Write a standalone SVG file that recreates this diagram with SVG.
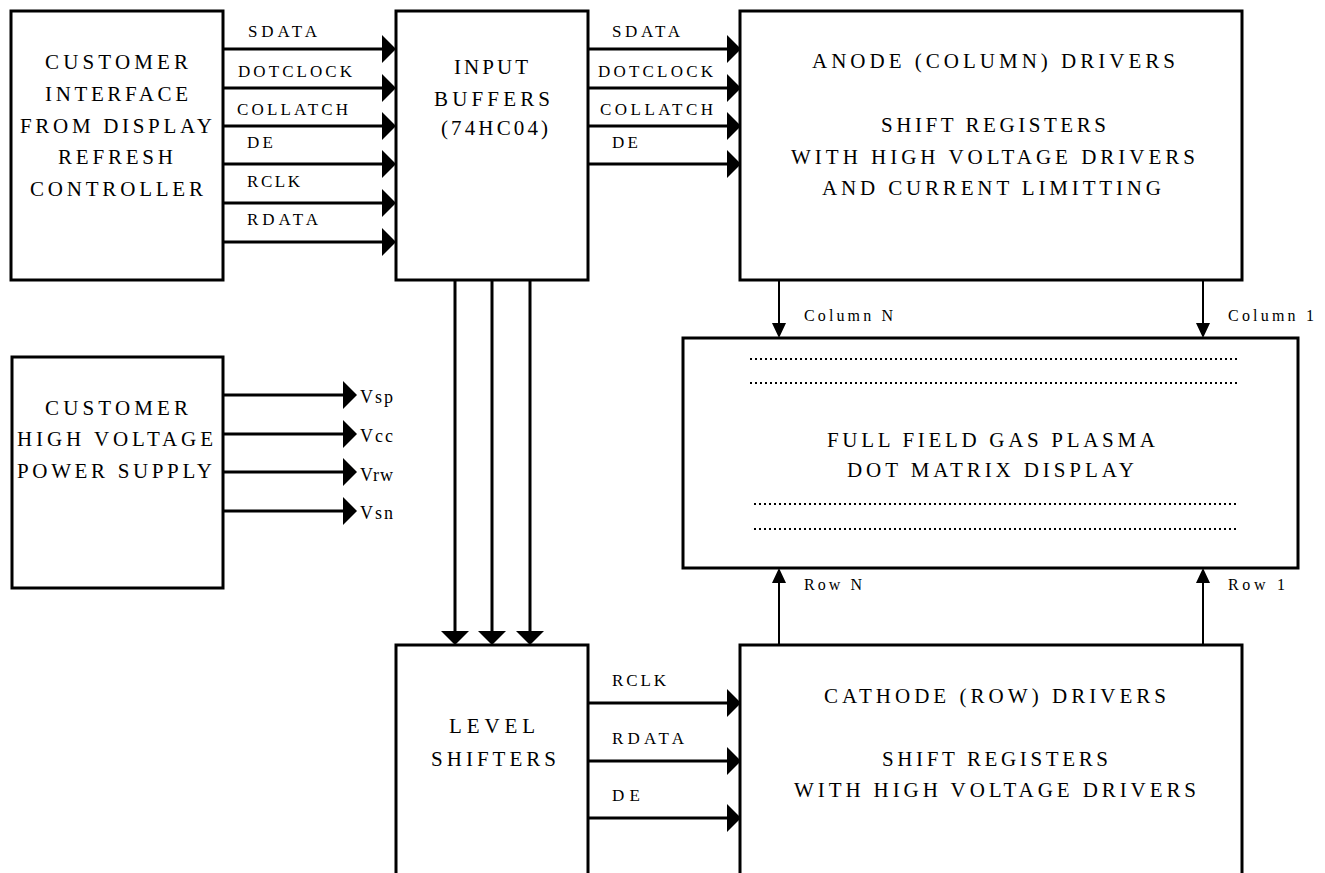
<svg xmlns="http://www.w3.org/2000/svg" width="1325" height="873" viewBox="0 0 1325 873">
<style>
.box{fill:#fff;stroke:#000;stroke-width:3}
.w{stroke:#000;stroke-width:3;fill:none}
.t{stroke:#000;stroke-width:2;fill:none}
.dot{stroke:#000;stroke-width:2;stroke-dasharray:2 3;fill:none}
.bt{font-family:"Liberation Serif","Times New Roman",serif;font-size:21px;fill:#000}
.vt{font-family:"Liberation Serif","Times New Roman",serif;font-size:18px;fill:#000}
.lb{font-family:"Liberation Serif","Times New Roman",serif;font-size:17px;fill:#000}
.sm{font-family:"Liberation Serif","Times New Roman",serif;font-size:16px;fill:#000}
</style>
<defs>
<marker id="big" markerUnits="userSpaceOnUse" markerWidth="14" markerHeight="28" refX="0" refY="14" orient="auto" viewBox="0 0 14 28"><path d="M0,0 L14,14 L0,28 z" fill="#000"/></marker>
<marker id="small" markerUnits="userSpaceOnUse" markerWidth="15" markerHeight="14" refX="0" refY="7" orient="auto" viewBox="0 0 15 14"><path d="M0,0 L15,7 L0,14 z" fill="#000"/></marker>
</defs>

<g id="customer-interface">
<rect class="box" x="11" y="11" width="212" height="269"/>
<text class="bt" x="45" y="69" textLength="143" lengthAdjust="spacing">CUSTOMER</text>
<text class="bt" x="45" y="101" textLength="143" lengthAdjust="spacing">INTERFACE</text>
<text class="bt" x="20" y="133" textLength="192" lengthAdjust="spacing">FROM DISPLAY</text>
<text class="bt" x="58" y="164" textLength="115" lengthAdjust="spacing">REFRESH</text>
<text class="bt" x="30" y="196" textLength="173" lengthAdjust="spacing">CONTROLLER</text>
</g>

<g id="input-buffers">
<rect class="box" x="396" y="11" width="192" height="269"/>
<text class="bt" x="454" y="74" textLength="74" lengthAdjust="spacing">INPUT</text>
<text class="bt" x="434" y="106" textLength="116" lengthAdjust="spacing">BUFFERS</text>
<text class="bt" x="441" y="135" textLength="107" lengthAdjust="spacing">(74HC04)</text>
</g>

<g id="anode-drivers">
<rect class="box" x="740" y="11" width="502" height="269"/>
<text class="bt" x="812" y="68" textLength="363" lengthAdjust="spacing">ANODE (COLUMN) DRIVERS</text>
<text class="bt" x="881" y="132" textLength="225" lengthAdjust="spacing">SHIFT REGISTERS</text>
<text class="bt" x="791" y="164" textLength="404" lengthAdjust="spacing">WITH HIGH VOLTAGE DRIVERS</text>
<text class="bt" x="822" y="195" textLength="339" lengthAdjust="spacing">AND CURRENT LIMITTING</text>
</g>

<g id="power-supply">
<rect class="box" x="12" y="357" width="211" height="231"/>
<text class="bt" x="45" y="415" textLength="143" lengthAdjust="spacing">CUSTOMER</text>
<text class="bt" x="17" y="446" textLength="196" lengthAdjust="spacing">HIGH VOLTAGE</text>
<text class="bt" x="17" y="478" textLength="195" lengthAdjust="spacing">POWER SUPPLY</text>
</g>

<g id="display">
<rect class="box" x="683" y="338" width="615" height="230"/>
<line class="dot" x1="750" y1="359" x2="1240" y2="359"/>
<line class="dot" x1="750" y1="383" x2="1240" y2="383"/>
<line class="dot" x1="754" y1="504" x2="1238" y2="504"/>
<line class="dot" x1="754" y1="529" x2="1238" y2="529"/>
<text class="bt" x="827" y="447" textLength="328" lengthAdjust="spacing">FULL FIELD GAS PLASMA</text>
<text class="bt" x="847" y="477" textLength="287" lengthAdjust="spacing">DOT MATRIX DISPLAY</text>
</g>

<g id="level-shifters">
<rect class="box" x="396" y="645" width="192" height="240"/>
<text class="bt" x="449" y="733" textLength="86" lengthAdjust="spacing">LEVEL</text>
<text class="bt" x="431" y="766" textLength="125" lengthAdjust="spacing">SHIFTERS</text>
</g>

<g id="cathode-drivers">
<rect class="box" x="740" y="645" width="502" height="240"/>
<text class="bt" x="824" y="703" textLength="342" lengthAdjust="spacing">CATHODE (ROW) DRIVERS</text>
<text class="bt" x="882" y="766" textLength="226" lengthAdjust="spacing">SHIFT REGISTERS</text>
<text class="bt" x="794" y="797" textLength="402" lengthAdjust="spacing">WITH HIGH VOLTAGE DRIVERS</text>
</g>

<g id="connectors">
<line class="w" x1="223" y1="49" x2="382" y2="49" marker-end="url(#big)"/>
<line class="w" x1="223" y1="88" x2="382" y2="88" marker-end="url(#big)"/>
<line class="w" x1="223" y1="126" x2="382" y2="126" marker-end="url(#big)"/>
<line class="w" x1="223" y1="164" x2="382" y2="164" marker-end="url(#big)"/>
<line class="w" x1="223" y1="203" x2="382" y2="203" marker-end="url(#big)"/>
<line class="w" x1="223" y1="242" x2="382" y2="242" marker-end="url(#big)"/>
<line class="w" x1="588" y1="49" x2="727" y2="49" marker-end="url(#big)"/>
<line class="w" x1="588" y1="88" x2="727" y2="88" marker-end="url(#big)"/>
<line class="w" x1="588" y1="126" x2="727" y2="126" marker-end="url(#big)"/>
<line class="w" x1="588" y1="164" x2="727" y2="164" marker-end="url(#big)"/>
<line class="w" x1="223" y1="395" x2="343" y2="395" marker-end="url(#big)"/>
<line class="w" x1="223" y1="434" x2="343" y2="434" marker-end="url(#big)"/>
<line class="w" x1="223" y1="472" x2="343" y2="472" marker-end="url(#big)"/>
<line class="w" x1="223" y1="511" x2="343" y2="511" marker-end="url(#big)"/>
<line class="w" x1="455" y1="280" x2="455" y2="631" marker-end="url(#big)"/>
<line class="w" x1="492" y1="280" x2="492" y2="631" marker-end="url(#big)"/>
<line class="w" x1="530" y1="280" x2="530" y2="631" marker-end="url(#big)"/>
<line class="w" x1="588" y1="703" x2="727" y2="703" marker-end="url(#big)"/>
<line class="w" x1="588" y1="761" x2="727" y2="761" marker-end="url(#big)"/>
<line class="w" x1="588" y1="818" x2="727" y2="818" marker-end="url(#big)"/>
<line class="t" x1="779" y1="280" x2="779" y2="323" marker-end="url(#small)"/>
<line class="t" x1="1203" y1="280" x2="1203" y2="323" marker-end="url(#small)"/>
<line class="t" x1="779" y1="645" x2="779" y2="583" marker-end="url(#small)"/>
<line class="t" x1="1203" y1="645" x2="1203" y2="583" marker-end="url(#small)"/>
</g>

<g id="labels">
<text class="lb" x="248" y="37" textLength="69" lengthAdjust="spacing">SDATA</text>
<text class="lb" x="238" y="77" textLength="114" lengthAdjust="spacing">DOTCLOCK</text>
<text class="lb" x="237" y="115" textLength="111" lengthAdjust="spacing">COLLATCH</text>
<text class="lb" x="247" y="148" textLength="26" lengthAdjust="spacing">DE</text>
<text class="lb" x="247" y="187" textLength="53" lengthAdjust="spacing">RCLK</text>
<text class="lb" x="247" y="225" textLength="71" lengthAdjust="spacing">RDATA</text>
<text class="lb" x="612" y="37" textLength="68" lengthAdjust="spacing">SDATA</text>
<text class="lb" x="598" y="77" textLength="115" lengthAdjust="spacing">DOTCLOCK</text>
<text class="lb" x="600" y="115" textLength="113" lengthAdjust="spacing">COLLATCH</text>
<text class="lb" x="612" y="148" textLength="26" lengthAdjust="spacing">DE</text>
<text class="lb" x="612" y="686" textLength="54" lengthAdjust="spacing">RCLK</text>
<text class="lb" x="612" y="744" textLength="72" lengthAdjust="spacing">RDATA</text>
<text class="lb" x="612" y="801" textLength="28" lengthAdjust="spacing">DE</text>
<text class="vt" x="360" y="403" textLength="33" lengthAdjust="spacing">Vsp</text>
<text class="vt" x="360" y="442" textLength="33" lengthAdjust="spacing">Vcc</text>
<text class="vt" x="360" y="481" textLength="33" lengthAdjust="spacing">Vrw</text>
<text class="vt" x="360" y="519" textLength="33" lengthAdjust="spacing">Vsn</text>
<text class="sm" x="804" y="321" textLength="89" lengthAdjust="spacing">Column N</text>
<text class="sm" x="1228" y="321" textLength="86" lengthAdjust="spacing">Column 1</text>
<text class="sm" x="804" y="590" textLength="58" lengthAdjust="spacing">Row N</text>
<text class="sm" x="1228" y="590" textLength="57" lengthAdjust="spacing">Row 1</text>
</g>
</svg>
